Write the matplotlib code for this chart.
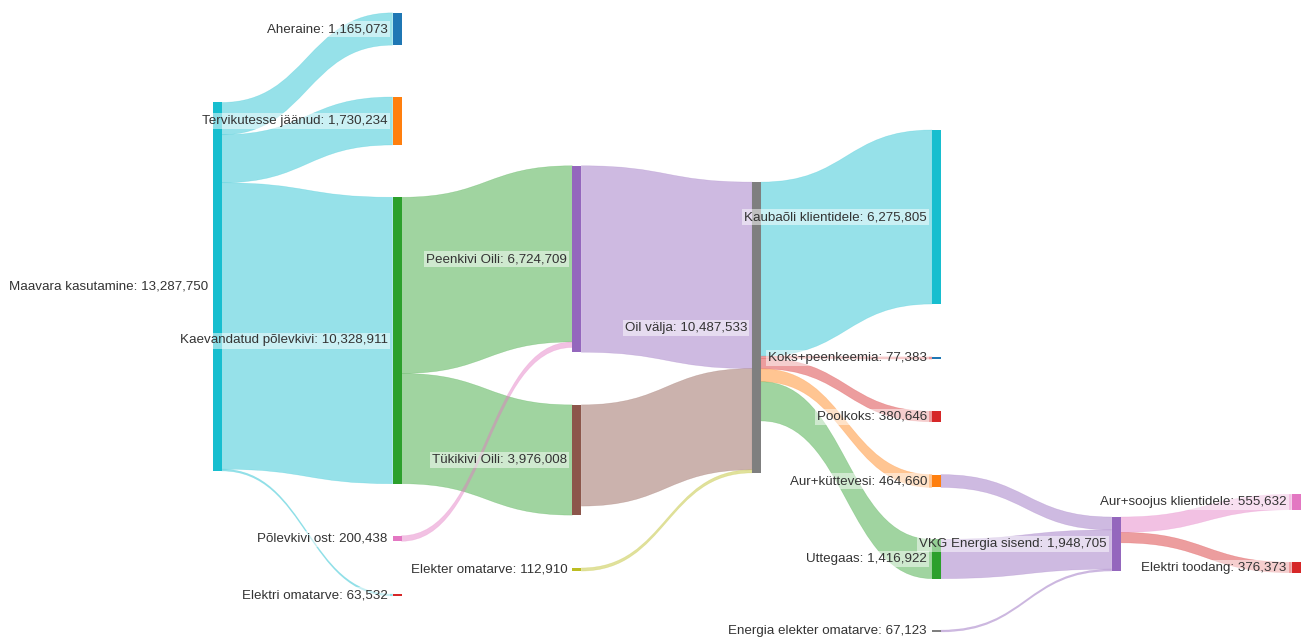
import matplotlib
matplotlib.use("Agg")
import matplotlib.pyplot as plt
from matplotlib.path import Path
from matplotlib.patches import PathPatch, Rectangle
from matplotlib.colors import to_rgba

# ---------------- data ----------------
node_names = [
    "Maavara kasutamine", "Aheraine", "Tervikutesse jäänud", "Kaevandatud põlevkivi",
    "Elektri omatarve", "Põlevkivi ost", "Peenkivi Oili", "Tükikivi Oili",
    "Elekter omatarve", "Oil välja", "Kaubaõli klientidele", "Koks+peenkeemia",
    "Poolkoks", "Aur+küttevesi", "Uttegaas", "Energia elekter omatarve",
    "VKG Energia sisend", "Aur+soojus klientidele", "Elektri toodang",
]
node_values = [
    13287750, 1165073, 1730234, 10328911,
    63532, 200438, 6724709, 3976008,
    112910, 10487533, 6275805, 77383,
    380646, 464660, 1416922, 67123,
    1948705, 555632, 376373,
]
link_source = [0, 0, 0, 0, 3, 3, 5, 6, 7, 8, 9, 9, 9, 9, 9, 13, 14, 15, 16, 16]
link_target = [1, 2, 3, 4, 6, 7, 6, 9, 9, 9, 10, 11, 12, 13, 14, 16, 16, 16, 17, 18]
link_values = [1165073, 1730234, 10328911, 63532, 6352903, 3976008, 200438,
               6724709, 3649914, 112910, 6275805, 77383, 380646, 464660,
               1416922, 464660, 1416922, 67123, 555632, 376373]

# ---------------- layout / style ----------------
node_column = [0, 1, 1, 1, 1, 1, 2, 2, 2, 3, 4, 4, 4, 4, 4, 4, 5, 6, 6]
node_center_y = [286.7, 29, 121, 340.5, 595, 538.5, 259, 460, 569.5, 327.5,
                 217, 358, 416.5, 481, 559, 631, 544, 502, 567.5]
node_colors = ["#17becf", "#1f77b4", "#ff7f0e", "#2ca02c", "#d62728", "#e377c2",
               "#9467bd", "#8c564b", "#bcbd22", "#7f7f7f", "#17becf", "#1f77b4",
               "#d62728", "#ff7f0e", "#2ca02c", "#7f7f7f", "#9467bd", "#e377c2",
               "#d62728"]
link_colors = ["#17becf", "#17becf", "#17becf", "#17becf", "#2ca02c", "#2ca02c",
               "#e377c2", "#9467bd", "#8c564b", "#bcbd22", "#17becf", "#d62728",
               "#d62728", "#ff7f0e", "#2ca02c", "#9467bd", "#9467bd", "#9467bd",
               "#e377c2", "#d62728"]
link_alpha = 0.45
col_x0, col_step, node_w = 212.7, 179.8, 9.0
px_per_unit = 368.5 / 13287750.0

W, H = 1302, 638
fig = plt.figure(figsize=(W / 100, H / 100), dpi=100)
ax = fig.add_axes([0, 0, 1, 1])
ax.set_xlim(0, W)
ax.set_ylim(H, 0)
ax.axis("off")

n = len(node_names)
inflow = [0.0] * n
outflow = [0.0] * n
for s, t, v in zip(link_source, link_target, link_values):
    outflow[s] += v
    inflow[t] += v
node_h = [max(inflow[i], outflow[i]) * px_per_unit for i in range(n)]
node_top = [node_center_y[i] - node_h[i] / 2 for i in range(n)]
node_x = [col_x0 + node_column[i] * col_step for i in range(n)]

# stacking offsets
out_off = {}
in_off = {}
for i in range(n):
    outs = sorted([k for k in range(len(link_source)) if link_source[k] == i],
                  key=lambda k: node_center_y[link_target[k]])
    y = node_top[i]
    for k in outs:
        out_off[k] = y
        y += link_values[k] * px_per_unit
    ins = sorted([k for k in range(len(link_target)) if link_target[k] == i],
                 key=lambda k: node_center_y[link_source[k]])
    y = node_top[i]
    for k in ins:
        in_off[k] = y
        y += link_values[k] * px_per_unit

for k in range(len(link_source)):
    s, t = link_source[k], link_target[k]
    h = link_values[k] * px_per_unit
    x0 = node_x[s] + node_w
    x1 = node_x[t]
    y0a = out_off[k]
    y0b = y0a + h
    y1a = in_off[k]
    y1b = y1a + h
    xm = (x0 + x1) / 2
    verts = [(x0, y0a), (xm, y0a), (xm, y1a), (x1, y1a), (x1, y1b),
             (xm, y1b), (xm, y0b), (x0, y0b), (x0, y0a)]
    codes = [Path.MOVETO, Path.CURVE4, Path.CURVE4, Path.CURVE4, Path.LINETO,
             Path.CURVE4, Path.CURVE4, Path.CURVE4, Path.CLOSEPOLY]
    ax.add_patch(PathPatch(Path(verts, codes), facecolor=to_rgba(link_colors[k], link_alpha),
                           edgecolor=to_rgba(link_colors[k], link_alpha * 0.6),
                           linewidth=0.4, zorder=1))

for i in range(n):
    ax.add_patch(Rectangle((node_x[i], node_top[i]), node_w, max(node_h[i], 1.5),
                           facecolor=node_colors[i], edgecolor="none", zorder=2))
    ax.text(node_x[i] - 5, node_center_y[i], f"{node_names[i]}: {node_values[i]:,}",
            ha="right", va="center", fontsize=9.6, color="#333333",
            family=["Liberation Sans", "DejaVu Sans"], zorder=3,
            bbox=dict(boxstyle="square,pad=0.15", facecolor="white",
                      edgecolor="none", alpha=0.5))

fig.savefig("out.png", dpi=100)
